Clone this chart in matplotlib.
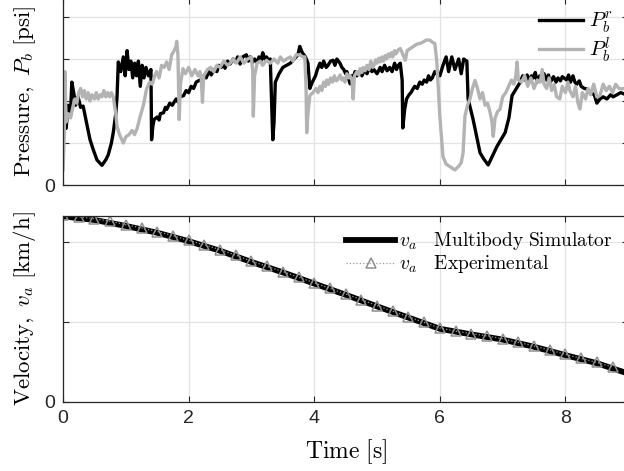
import matplotlib
matplotlib.use("Agg")
import matplotlib.pyplot as plt
from matplotlib.lines import Line2D

plt.rcParams["mathtext.fontset"] = "cm"
plt.rcParams["font.family"] = ["Liberation Sans", "DejaVu Sans"]

# brake pressure, right wheel (time [s], pressure in tick units)
PR_T = [0.00, 0.05, 0.08, 0.12, 0.14, 0.17, 0.20, 0.24, 0.28, 0.32, 0.38, 0.43, 0.48, 0.54,
        0.62, 0.68, 0.72, 0.77, 0.80, 0.84, 0.86, 0.88, 0.92, 0.96, 0.99, 1.02, 1.05, 1.08,
        1.11, 1.14, 1.17, 1.20, 1.23, 1.26, 1.29, 1.32, 1.36, 1.40, 1.41, 1.43, 1.45,
        1.50, 1.53, 1.55, 1.60, 1.63, 1.65, 1.70, 1.74, 1.80, 1.83, 1.86, 1.92, 1.96, 2.00,
        2.04, 2.08, 2.12, 2.18, 2.22, 2.25, 2.28, 2.32, 2.36, 2.40, 2.45, 2.48, 2.52, 2.55,
        2.58, 2.62, 2.66, 2.71, 2.75, 2.78, 2.82, 2.86, 2.92, 2.95, 2.98, 3.02, 3.05, 3.09,
        3.12, 3.15, 3.18, 3.21, 3.24, 3.28, 3.30, 3.34,
        3.36, 3.38, 3.44, 3.50, 3.56, 3.62, 3.68, 3.74, 3.77, 3.81, 3.86, 3.90, 3.93, 3.97,
        4.02, 4.05, 4.09, 4.12, 4.15, 4.19, 4.22, 4.26, 4.30, 4.33, 4.36, 4.41, 4.44, 4.47,
        4.50, 4.52, 4.57, 4.60, 4.62, 4.65, 4.68, 4.73, 4.76, 4.80, 4.84, 4.88, 4.92, 4.95,
        5.00, 5.05, 5.08, 5.12, 5.16, 5.20, 5.24, 5.28, 5.31, 5.34, 5.37,
        5.40, 5.41, 5.44, 5.47, 5.51, 5.54, 5.57, 5.60, 5.64, 5.68, 5.72, 5.75, 5.79, 5.82,
        5.85, 5.88, 5.92, 5.95, 6.00, 6.05, 6.10, 6.14, 6.19, 6.24, 6.30, 6.34, 6.38,
        6.43, 6.45, 6.49, 6.53, 6.58, 6.64, 6.70, 6.77, 6.84, 6.91, 6.98, 7.04, 7.10, 7.15,
        7.22, 7.28, 7.32, 7.35, 7.39, 7.42, 7.46, 7.49, 7.52, 7.55, 7.59, 7.62, 7.66, 7.70,
        7.73, 7.76, 7.81, 7.85, 7.88, 7.92, 7.95, 8.02, 8.05, 8.08,
        8.12, 8.15, 8.18, 8.22, 8.25, 8.30, 8.34, 8.40, 8.46, 8.50, 8.55, 8.60, 8.66, 8.72,
        8.76, 8.82, 8.88, 8.93]
PR_V = [1.64, 1.35, 1.90, 1.75, 2.45, 2.20, 1.90, 2.10, 1.85, 1.88, 1.45, 1.08, 0.85, 0.60,
        0.47, 0.60, 0.72, 1.00, 1.25, 1.70, 2.10, 2.93, 2.70, 3.05, 2.60, 3.20, 2.75, 2.95,
        2.55, 2.90, 2.60, 2.95, 2.35, 2.85, 2.55, 2.80, 2.60, 2.75, 1.08, 1.40, 1.56,
        1.62, 1.55, 1.70, 1.72, 1.85, 1.80, 1.95, 1.90, 2.05, 1.98, 2.10, 2.13, 2.25, 2.20,
        2.35, 2.30, 2.45, 2.50, 2.45, 2.62, 2.55, 2.70, 2.62, 2.75, 2.70, 2.85, 2.80, 2.90,
        2.78, 2.95, 2.88, 3.00, 2.92, 3.05, 2.88, 3.05, 3.10, 2.95, 3.05, 2.92, 3.00, 2.92,
        3.05, 2.95, 3.15, 3.00, 3.05, 2.95, 3.00, 1.08,
        1.50, 2.45, 2.65, 2.80, 2.85, 2.90, 3.00, 3.10, 3.30, 3.15, 3.05, 2.90, 2.30, 2.45,
        2.60, 2.75, 2.90, 2.80, 2.95, 2.80, 2.85, 2.95, 2.97, 2.85, 3.00, 2.90, 2.80, 2.75,
        2.65, 2.70, 2.41, 2.60, 2.55, 2.70, 2.60, 2.70, 2.60, 2.75, 2.65, 2.80, 2.70, 2.75,
        2.65, 2.80, 2.70, 2.85, 2.72, 2.80, 2.70, 2.90, 2.75, 2.85, 2.90,
        2.50, 1.36, 1.80, 2.05, 2.15, 2.20, 2.28, 2.35, 2.30, 2.45, 2.40, 2.50, 2.45, 2.60,
        2.50, 2.55, 2.70, 2.65, 2.60, 2.85, 3.05, 2.70, 3.05, 2.75, 3.00, 2.65, 3.00,
        2.95, 2.05, 1.80, 1.56, 1.20, 0.77, 0.62, 0.48, 0.70, 0.92, 1.10, 1.25, 1.60, 2.13,
        2.30, 2.45, 2.60, 2.50, 2.62, 2.48, 2.60, 2.55, 2.68, 2.45, 2.60, 2.50, 2.65, 2.50,
        2.62, 2.45, 2.58, 2.45, 2.55, 2.48, 2.58, 2.50, 2.62, 2.45,
        2.60, 2.45, 2.40, 2.48, 2.35, 2.30, 2.29, 2.20, 2.15, 1.95, 2.05, 2.10, 2.05, 2.15,
        2.10, 2.15, 2.20, 2.17]

# brake pressure, left wheel
PL_T = [0.00, 0.02, 0.03, 0.05, 0.08, 0.12, 0.16, 0.19, 0.22, 0.25, 0.28, 0.31, 0.34, 0.37,
        0.40, 0.43, 0.46, 0.50, 0.53, 0.56, 0.59, 0.62, 0.65, 0.68, 0.71, 0.74, 0.77, 0.80,
        0.84, 0.86, 0.90, 0.96, 1.00, 1.05,
        1.10, 1.14, 1.18, 1.23, 1.28, 1.33, 1.38, 1.42, 1.46, 1.49, 1.53, 1.57, 1.61, 1.65,
        1.69, 1.73, 1.77, 1.80, 1.81, 1.83, 1.85, 1.87, 1.91, 1.95, 2.00, 2.05, 2.10, 2.15,
        2.18, 2.20, 2.22, 2.24, 2.30, 2.35, 2.40, 2.45, 2.50, 2.56, 2.62, 2.66, 2.71, 2.76,
        2.82, 2.88, 2.94, 3.00, 3.02, 3.03, 3.05, 3.09, 3.14, 3.18, 3.24, 3.30, 3.36, 3.42,
        3.46, 3.51, 3.56, 3.62, 3.66, 3.71, 3.77, 3.82, 3.85, 3.87, 3.88, 3.90, 3.93, 3.98,
        4.03, 4.06, 4.09, 4.12, 4.15, 4.18, 4.20, 4.23, 4.26, 4.29, 4.32, 4.35, 4.37, 4.41,
        4.44, 4.46, 4.49, 4.52, 4.55, 4.57, 4.60, 4.62, 4.64,
        4.68, 4.71, 4.73, 4.76, 4.78, 4.81, 4.84, 4.87, 4.90, 4.93, 4.95, 4.98, 5.00, 5.03,
        5.05, 5.08, 5.10, 5.13, 5.15, 5.18, 5.20, 5.23, 5.25, 5.28, 5.30, 5.34, 5.37,
        5.40, 5.45, 5.48, 5.53, 5.58, 5.63, 5.68, 5.73, 5.78, 5.84, 5.88, 5.92, 5.95, 5.98,
        6.00, 6.05, 6.10, 6.16, 6.24, 6.30, 6.34, 6.37, 6.40, 6.44, 6.48, 6.52, 6.56, 6.60,
        6.64, 6.68, 6.72, 6.76, 6.80, 6.83, 6.85, 6.88, 6.92, 6.96, 7.00, 7.05, 7.10, 7.14,
        7.18, 7.21, 7.23, 7.25, 7.30, 7.35, 7.40, 7.45, 7.50, 7.55, 7.60, 7.63, 7.66, 7.70,
        7.74, 7.78, 7.82, 7.86, 7.91, 7.95, 8.00, 8.04, 8.07, 8.12, 8.16, 8.20, 8.23, 8.27,
        8.32, 8.36, 8.40, 8.45, 8.50, 8.55, 8.60, 8.65, 8.70, 8.75, 8.80, 8.85, 8.90, 8.93]
PL_V = [0.36, 1.20, 2.70, 1.50, 1.70, 1.60, 1.88, 2.05, 1.95, 2.20, 2.30, 2.10, 2.25, 2.05,
        2.20, 2.00, 2.15, 2.05, 2.20, 2.05, 2.15, 2.10, 2.25, 2.10, 2.20, 2.10, 2.20, 2.10,
        1.70, 1.40, 1.20, 1.00, 1.15, 1.20,
        1.30, 1.20, 1.35, 1.64, 1.90, 2.29, 2.45, 2.40, 2.60, 2.70, 2.55, 2.85, 2.80, 2.93,
        2.75, 3.10, 3.20, 3.30, 3.42, 3.10, 1.56, 2.40, 2.77, 2.65, 2.80, 2.60, 2.75, 2.60,
        2.70, 2.55, 1.97, 2.60, 2.75, 2.80, 2.70, 2.85, 2.80, 2.95, 2.85, 2.90, 3.00, 2.90,
        3.05, 2.90, 3.00, 3.05, 2.70, 1.64, 2.60, 2.90, 2.95, 2.85, 2.97, 2.90, 3.00, 2.90,
        3.05, 2.95, 3.00, 3.05, 2.95, 3.10, 3.10, 3.05, 3.05, 2.30, 1.25, 1.70, 2.13, 2.20,
        2.30, 2.20, 2.35, 2.25, 2.45, 2.35, 2.50, 2.40, 2.55, 2.45, 2.60, 2.48, 2.50, 2.62,
        2.50, 2.55, 2.45, 2.65, 2.55, 2.60, 2.50, 2.05, 2.60,
        2.70, 2.62, 2.77, 2.68, 2.80, 2.72, 2.85, 2.75, 2.95, 2.80, 2.85, 2.98, 2.90, 3.02,
        2.93, 3.05, 2.95, 3.08, 3.00, 3.12, 3.05, 3.15, 3.05, 3.20, 3.12, 3.22, 3.25,
        3.15, 2.97, 3.20, 3.25, 3.30, 3.35, 3.37, 3.40, 3.45, 3.45, 3.40, 3.37, 2.97, 2.20,
        1.64, 0.68, 0.50, 0.44, 0.36, 0.45, 0.53, 0.77, 1.64, 1.90, 2.05, 2.30, 2.49, 2.30,
        2.05, 2.20, 1.90, 1.95, 1.73, 1.50, 1.16, 1.60, 1.75, 1.81, 2.10, 2.20, 2.37, 2.50,
        2.40, 2.60, 2.93, 2.50, 2.45, 2.60, 2.35, 2.55, 2.30, 2.50, 2.45, 2.75, 2.40, 2.30,
        2.55, 2.25, 2.40, 2.10, 2.05, 2.35, 2.20, 2.45, 2.25, 2.10, 2.35, 1.95, 1.81, 2.20,
        2.05, 2.30, 2.15, 2.40, 2.10, 2.13, 2.40, 2.25, 2.35, 2.20, 2.40, 2.30, 2.29, 2.30]

# vehicle velocity [km/h]
SIM_T = [0.0, 0.5, 1.0, 1.5, 2.0, 2.5, 3.0, 3.5, 4.0, 4.5, 5.0, 5.5, 6.0, 6.5, 7.0, 7.5,
         8.0, 8.5, 9.0]
SIM_V = [46.4, 45.5, 44.0, 42.3, 40.2, 37.8, 35.0, 32.4, 29.6, 26.8, 23.9, 21.1, 18.3,
         16.9, 15.6, 13.8, 11.7, 9.7, 7.1]
EXP_T = [0.0, 0.25, 0.5, 0.75, 1.0, 1.25, 1.5, 1.75, 2.0, 2.25, 2.5, 2.75, 3.0, 3.25, 3.5,
         3.75, 4.0, 4.25, 4.5, 4.75, 5.0, 5.25, 5.5, 5.75, 6.0, 6.25, 6.5, 6.75, 7.0, 7.25,
         7.5, 7.75, 8.0, 8.25, 8.5, 8.75]
EXP_V = [46.7, 46.3, 45.8, 45.2, 44.3, 43.5, 42.6, 41.6, 40.4, 39.3, 38.1, 36.7, 35.2,
         33.9, 32.6, 31.2, 29.8, 28.4, 27.0, 25.6, 24.1, 22.7, 21.3, 19.9, 18.5, 17.7, 17.1,
         16.5, 15.8, 14.9, 14.0, 13.0, 11.9, 10.9, 9.9, 8.8]

X_TICKS = [0, 2, 4, 6, 8]
P_TICKS = [0, 1, 2, 3, 4]
V_TICKS = [0, 20, 40]

AX_COLOR = "#262626"
GRAY = "#b3b3b3"


def style_axes(ax):
    for spine in ax.spines.values():
        spine.set_color(AX_COLOR)
        spine.set_linewidth(0.9)
    ax.tick_params(direction="in", length=4, width=0.8, color=AX_COLOR,
                   top=True, right=True, labelsize=14, labelcolor=AX_COLOR, pad=6)
    ax.grid(True, color="#e3e3e3", linewidth=0.9)
    ax.set_axisbelow(True)


fig = plt.figure(figsize=(6.24, 4.71), dpi=100)
ax_p = fig.add_axes([0.101, 0.607, 0.9058, 0.398])
ax_v = fig.add_axes([0.101, 0.1465, 0.9058, 0.395])

# pressure
ax_p.plot(PR_T, PR_V, color="black", linewidth=2.4)
ax_p.plot(PL_T, PL_V, color=GRAY, linewidth=2.4)
ax_p.set_xlim(0, 9)
ax_p.set_ylim(0, 4.46)
ax_p.set_xticks(X_TICKS, [""] * len(X_TICKS))
ax_p.set_yticks(P_TICKS, ["0"] + [""] * (len(P_TICKS) - 1))
style_axes(ax_p)
ax_p.set_ylabel(r"$\mathrm{Pressure,}\ P_b\ \mathrm{[psi]}$", fontsize=16.5)
ax_p.yaxis.set_label_coords(-0.044, 0.5)
p_handles = [
    Line2D([0], [0], color="black", linewidth=2.4, label=r"$P_b^r$"),
    Line2D([0], [0], color=GRAY, linewidth=2.4, label=r"$P_b^l$"),
]
ax_p.legend(handles=p_handles, loc="upper right", bbox_to_anchor=(0.995, 1.0),
            frameon=False, fontsize=15, handlelength=2.1, handletextpad=0.3,
            labelspacing=0.0, borderaxespad=0.2)

# velocity
ax_v.plot(SIM_T, SIM_V, color="black", linewidth=4.2, solid_capstyle="butt")
ax_v.plot(EXP_T, EXP_V, color="#9a9a9a", linestyle=":", linewidth=0.9, marker="^",
          markersize=6.5, markerfacecolor="none", markeredgecolor="#8f8f8f",
          markeredgewidth=1.1)
ax_v.set_xlim(0, 9)
ax_v.set_ylim(0, 46.5)
ax_v.set_xticks(X_TICKS)
ax_v.set_yticks(V_TICKS, ["0"] + [""] * (len(V_TICKS) - 1))
style_axes(ax_v)
ax_v.set_ylabel(r"$\mathrm{Velocity,}\ v_a\ \mathrm{[km/h]}$", fontsize=16.5)
ax_v.yaxis.set_label_coords(-0.044, 0.5)
ax_v.set_xlabel(r"$\mathrm{Time\ [s]}$", fontsize=17)
ax_v.xaxis.set_label_coords(0.5, -0.19)
v_handles = [
    Line2D([0], [0], color="black", linewidth=4.2,
           label=r"$v_a\quad\mathrm{Multibody\ Simulator}$"),
    Line2D([0], [0], color="#9a9a9a", linestyle=":", linewidth=0.9, marker="^",
           markersize=6.5, markerfacecolor="none", markeredgecolor="#8f8f8f",
           markeredgewidth=1.1, label=r"$v_a\quad\mathrm{Experimental}$"),
]
ax_v.legend(handles=v_handles, loc="upper right", bbox_to_anchor=(0.996, 0.995),
            frameon=False, fontsize=14, handlelength=2.5, handletextpad=0.2,
            labelspacing=0.05, borderaxespad=0.3)

fig.savefig("out.png", dpi=100)
